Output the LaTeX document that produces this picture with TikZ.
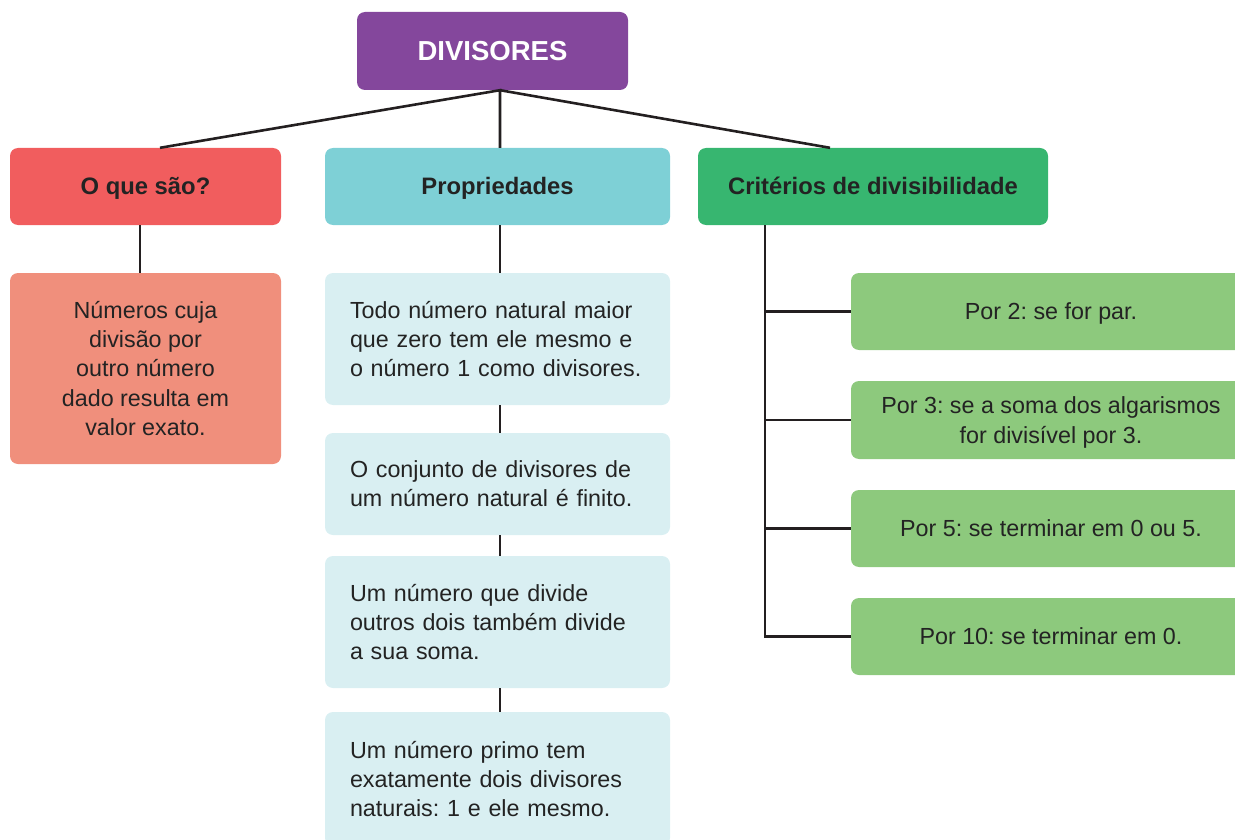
\documentclass[tikz,border=0pt]{standalone}
\usepackage{fontspec}
\setmainfont{Liberation Sans}
\frenchspacing
\definecolor{cPurple}{HTML}{84479C}
\definecolor{cRed}{HTML}{F15D5E}
\definecolor{cCyan}{HTML}{7ED0D6}
\definecolor{cGreen}{HTML}{37B670}
\definecolor{cSalmon}{HTML}{F08F7C}
\definecolor{cLight}{HTML}{D9EFF2}
\definecolor{cLGreen}{HTML}{8DC97D}
\definecolor{cTxt}{HTML}{232323}
\definecolor{cLine}{HTML}{231F20}
\begin{document}
\begin{tikzpicture}[x=1pt,y=-1pt,
  box/.style={rounded corners=8pt, inner sep=0pt, text=cTxt, align=center},
  head/.style={box, text height=17pt, text depth=0pt, minimum height=77pt, font=\fontsize{23.8}{28}\selectfont\bfseries},
  body/.style={box, font=\fontsize{23.3}{29.3}\selectfont},
  prop/.style={body, fill=cLight, text width=295pt, inner xsep=25pt, align=left},
  crit/.style={body, fill=cLGreen, minimum width=400pt, minimum height=77pt},
  critone/.style={crit, text height=16.7pt, text depth=0pt},
  conn/.style={draw=cLine, line width=2.6pt}]
\useasboundingbox (0,0) rectangle (1235,840);
\clip (0,0) rectangle (1235,840);
% top
\node[box, text height=19.7pt, text depth=0pt, fill=cPurple, text=white, minimum width=271pt, minimum height=78pt,
  font=\fontsize{27.5}{32}\selectfont\bfseries] (D) at (492.5,51) {DIVISORES};
% headers
\node[head, fill=cRed, minimum width=271pt] (R) at (145.5,186.5) {O que são?};
\node[head, fill=cCyan, minimum width=345pt] (P) at (497.5,186.5) {Propriedades};
\node[head, fill=cGreen, minimum width=350pt] (C) at (873,186.5) {Critérios de divisibilidade};
% left
\node[body, fill=cSalmon, minimum width=271pt, minimum height=191pt] (N) at (145.5,368.5)
  {Números cuja\\divisão por\\outro número\\dado resulta em\\valor exato.};
% properties
\node[prop, minimum height=132pt] (P1) at (497.5,339)
  {Todo número natural maior\\que zero tem ele mesmo e\\o número 1 como divisores.};
\node[prop, minimum height=102pt] (P2) at (497.5,484)
  {O conjunto de divisores de\\um número natural é finito.};
\node[prop, minimum height=132pt] (P3) at (497.5,622)
  {Um número que divide\\outros dois também divide\\a sua soma.};
\node[prop, minimum height=134pt] (P4) at (497.5,779)
  {Um número primo tem\\exatamente dois divisores\\naturais: 1 e ele mesmo.};
% criteria
\node[critone] (G1) at (1051,311.5) {Por 2: se for par.};
\node[crit, minimum height=78pt, text depth=0pt] (G2) at (1051,420) {Por 3: se a soma dos algarismos\\for divisível por 3.};
\node[critone] (G3) at (1051,528.5) {Por 5: se terminar em 0 ou 5.};
\node[critone] (G4) at (1051,636.5) {Por 10: se terminar em 0.};
% connectors
\coordinate (hub) at ([xshift=7.5pt]D.south);
\draw[conn] ([xshift=14.5pt]R.north) -- (hub) -- ([xshift=2.5pt]P.north);
\draw[conn] (hub) -- ([xshift=-43pt]C.north);
\draw[conn] ([xshift=-5.5pt]R.south) -- ([xshift=-5.5pt]N.north);
\draw[conn] ([xshift=2.5pt]P.south) -- ([xshift=2.5pt]P1.north);
\draw[conn] ([xshift=2.5pt]P1.south) -- ([xshift=2.5pt]P2.north);
\draw[conn] ([xshift=2.5pt]P2.south) -- ([xshift=2.5pt]P3.north);
\draw[conn] ([xshift=2.5pt]P3.south) -- ([xshift=2.5pt]P4.north);
\coordinate (trunk) at ([xshift=67pt]C.south west);
\draw[conn] (trunk) |- (G4.west);
\draw[conn] (G1.west) -- (G1.west -| trunk);
\draw[conn] (G2.west) -- (G2.west -| trunk);
\draw[conn] (G3.west) -- (G3.west -| trunk);
\end{tikzpicture}
\end{document}
